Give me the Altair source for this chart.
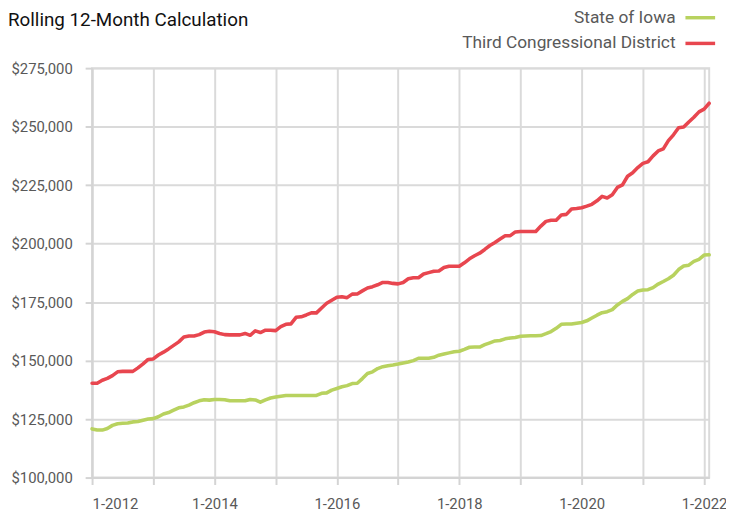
import altair as alt
import pandas as pd

FONT = "Roboto"

series_names = ["State of Iowa", "Third Congressional District"]
series_colors = ["#b8d25f", "#e8464f"]

start_year = 2012
start_month = 1

# Monthly rolling 12-month values, Jan 2012 .. Feb 2022
iowa = [
    120800, 120300, 120300, 121000, 122300, 123000, 123200, 123300, 123800, 124000, 124500, 125000,
    125200, 126000, 127200, 127800, 128800, 129800, 130200, 131000, 132000, 132800, 133300, 133100,
    133400, 133400, 133300, 132800, 132800, 132800, 132800, 133400, 133200, 132200, 133200, 134000,
    134400, 134800, 135100, 135100, 135100, 135100, 135100, 135100, 135100, 136000, 136200, 137400,
    138100, 138800, 139300, 140200, 140300, 142300, 144500, 145200, 146600, 147400, 147800, 148100,
    148500, 149000, 149400, 150000, 151000, 151000, 151000, 151400, 152300, 152800, 153300, 153800,
    154000, 154800, 155700, 155800, 155800, 156800, 157600, 158400, 158600, 159300, 159700, 159900,
    160400, 160500, 160600, 160600, 160700, 161500, 162400, 163800, 165500, 165600, 165600, 166000,
    166300, 167000, 168200, 169400, 170500, 170900, 171800, 173800, 175300, 176500, 178300, 179700,
    180200, 180300, 181200, 182700, 183800, 185000, 186500, 188900, 190400, 190800, 192400, 193300,
    195100, 195200,
]

district = [
    140300, 140300, 141600, 142400, 143600, 145200, 145400, 145400, 145400, 146900, 148600, 150500,
    150700, 152400, 153600, 155000, 156500, 158000, 160100, 160500, 160500, 161100, 162200, 162500,
    162300, 161600, 161100, 161000, 161000, 161000, 161600, 160800, 162700, 162000, 163000, 163000,
    162800, 164500, 165500, 165700, 168500, 168700, 169500, 170400, 170400, 172500, 174500, 175800,
    177100, 177300, 176900, 178400, 178500, 179800, 181000, 181600, 182400, 183400, 183400, 183000,
    182800, 183400, 185000, 185400, 185400, 187000, 187600, 188200, 188300, 189800, 190300, 190300,
    190300, 191800, 193500, 194800, 195900, 197500, 199200, 200500, 202000, 203400, 203400, 205000,
    205200, 205200, 205200, 205200, 207500, 209500, 210000, 210000, 212200, 212500, 214800, 215000,
    215300, 216000, 216800, 218300, 220200, 219500, 220900, 224000, 225100, 228800, 230300, 232500,
    234300, 235000, 237500, 239600, 240500, 244000, 246500, 249500, 249800, 252000, 254000, 256300,
    257500, 260000,
]

y_ticks = [100000, 125000, 150000, 175000, 200000, 225000, 250000, 275000]
x_ticks = list(range(2012, 2023))

rows = []
for name, vals in zip(series_names, [iowa, district]):
    for i, v in enumerate(vals):
        rows.append({"t": start_year + (start_month - 1 + i) / 12.0, "value": v, "series": name})
df = pd.DataFrame(rows)

x_end = start_year + (len(iowa) - 1) / 12.0

chart = (
    alt.Chart(df)
    .mark_line(strokeWidth=3.6, strokeJoin="round", strokeCap="round")
    .encode(
        x=alt.X(
            "t:Q",
            scale=alt.Scale(domain=[start_year, x_end], nice=False, zero=False),
            axis=alt.Axis(
                title=None,
                values=x_ticks,
                labelExpr="datum.value % 2 == 0 ? '1-' + datum.value : ''",
                tickSize=7,
                labelPadding=12,
                labelFontSize=15,
            ),
        ),
        y=alt.Y(
            "value:Q",
            scale=alt.Scale(domain=[y_ticks[0], y_ticks[-1]], nice=False, zero=False),
            axis=alt.Axis(
                title=None,
                values=y_ticks,
                format="$,.0f",
                tickSize=7,
                labelPadding=13,
                labelFontSize=15,
            ),
        ),
        color=alt.Color(
            "series:N",
            scale=alt.Scale(domain=series_names, range=series_colors),
            legend=alt.Legend(
                title=None,
                orient="none",
                legendX=598,
                legendY=-68,
                symbolType="stroke",
                symbolSize=900,
                symbolStrokeWidth=3.5,
                labelAlign="right",
                labelOffset={"expr": "-42"},
                labelFontSize=17.5,
                labelFont=FONT,
                labelColor="#595959",
                labelLimit=400,
                rowPadding={"expr": "-6"},
                padding=0,
            ),
        ),
    )
    .properties(
        width=624,
        height=414,
        autosize=alt.AutoSizeParams(type="none"),
        padding={"left": 85, "top": 58, "right": 17, "bottom": 32},
        title=alt.TitleParams(
            text="Rolling 12-Month Calculation",
            anchor="start",
            frame="group",
            font=FONT,
            fontSize=19,
            fontWeight="normal",
            color="#111111",
            baseline="alphabetic",
            dx=-85,
            offset={"expr": "-44"},
        ),
    )
    .configure_view(stroke="#dadada", strokeWidth=2)
    .configure_axis(
        gridColor="#dadada",
        gridWidth=2,
        domainColor="#d4d4d4",
        domainWidth=2,
        tickColor="#d4d4d4",
        tickWidth=2,
        labelColor="#595959",
        labelFont=FONT,
    )
)

chart.save("out.html", embed_options={"renderer": "svg", "actions": False})
